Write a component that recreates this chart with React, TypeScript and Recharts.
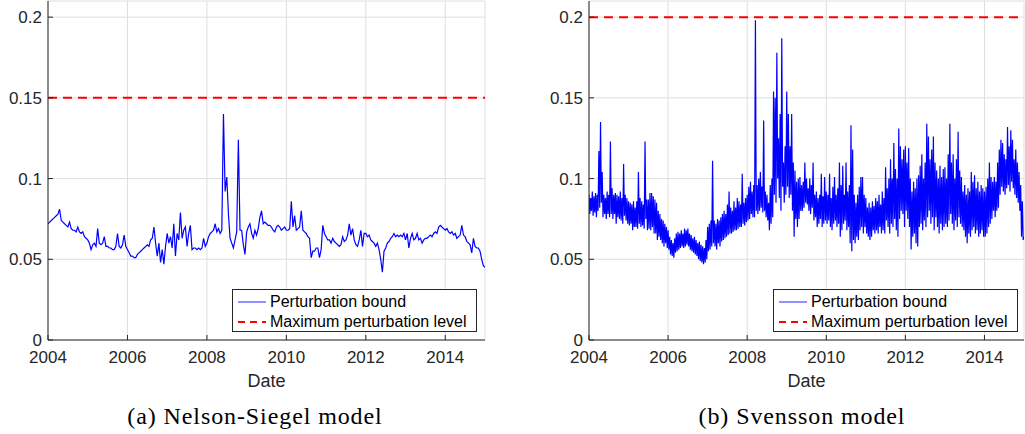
import React from "react";
import { LineChart, Line, XAxis, YAxis, CartesianGrid, ReferenceLine } from "recharts";

const START_YEAR = 2004;
const YEAR_TICKS = [2004, 2006, 2008, 2010, 2012, 2014];
const VALUE_TICKS = [0, 0.05, 0.1, 0.15, 0.2];

// (a) Nelson-Siegel perturbation bound, two readings per month
const NS_PER_YEAR = 24;
const NS_BOUND = [
  0.072, 0.073, 0.074, 0.075, 0.076, 0.077, 0.078, 0.081, 0.074, 0.073, 0.072, 0.071, 0.070, 0.073, 0.069, 0.068, 0.068, 0.067, 0.070, 0.067, 0.066, 0.067, 0.064, 0.063,
  0.062, 0.060, 0.056, 0.059, 0.060, 0.058, 0.069, 0.060, 0.059, 0.060, 0.064, 0.058, 0.058, 0.057, 0.057, 0.056, 0.056, 0.058, 0.066, 0.058, 0.057, 0.059, 0.065, 0.058,
  0.056, 0.054, 0.052, 0.052, 0.051, 0.051, 0.053, 0.054, 0.055, 0.056, 0.057, 0.058, 0.059, 0.058, 0.062, 0.063, 0.070, 0.060, 0.052, 0.060, 0.048, 0.056, 0.047, 0.058,
  0.066, 0.060, 0.064, 0.057, 0.072, 0.052, 0.066, 0.062, 0.079, 0.063, 0.068, 0.070, 0.058, 0.066, 0.071, 0.056, 0.057, 0.057, 0.056, 0.057, 0.056, 0.057, 0.063, 0.058,
  0.060, 0.064, 0.066, 0.067, 0.068, 0.072, 0.067, 0.069, 0.066, 0.068, 0.140, 0.092, 0.101, 0.078, 0.063, 0.060, 0.057, 0.062, 0.067, 0.124, 0.068, 0.068, 0.059, 0.053,
  0.067, 0.070, 0.072, 0.066, 0.063, 0.068, 0.065, 0.069, 0.076, 0.080, 0.072, 0.073, 0.072, 0.071, 0.071, 0.070, 0.068, 0.067, 0.070, 0.071, 0.070, 0.068, 0.069, 0.070,
  0.068, 0.068, 0.069, 0.086, 0.070, 0.077, 0.068, 0.069, 0.070, 0.080, 0.068, 0.067, 0.066, 0.064, 0.063, 0.051, 0.055, 0.055, 0.057, 0.057, 0.051, 0.056, 0.071, 0.066,
  0.064, 0.062, 0.062, 0.060, 0.063, 0.061, 0.060, 0.059, 0.058, 0.059, 0.064, 0.061, 0.062, 0.065, 0.072, 0.065, 0.069, 0.062, 0.059, 0.058, 0.062, 0.068, 0.058, 0.066,
  0.066, 0.064, 0.065, 0.062, 0.061, 0.060, 0.058, 0.060, 0.056, 0.050, 0.042, 0.055, 0.057, 0.060, 0.061, 0.063, 0.064, 0.066, 0.064, 0.065, 0.064, 0.065, 0.064, 0.066,
  0.062, 0.066, 0.057, 0.063, 0.066, 0.062, 0.063, 0.066, 0.062, 0.063, 0.060, 0.062, 0.063, 0.063, 0.064, 0.065, 0.064, 0.066, 0.067, 0.066, 0.070, 0.071, 0.070, 0.069,
  0.068, 0.069, 0.067, 0.066, 0.067, 0.065, 0.066, 0.063, 0.064, 0.065, 0.071, 0.065, 0.064, 0.061, 0.060, 0.059, 0.054, 0.063, 0.058, 0.057, 0.057, 0.055, 0.050, 0.046,
  0.045,
];

// (b) Svensson perturbation bound, four readings per month (it swings a lot)
const SV_PER_YEAR = 48;
const SV_BOUND = [
  // 2004
  0.090, 0.078, 0.088, 0.080, 0.092, 0.077, 0.089, 0.079, 0.091, 0.076, 0.090, 0.080, 0.117, 0.082, 0.135, 0.085,
  0.104, 0.076, 0.090, 0.078, 0.088, 0.075, 0.092, 0.078, 0.090, 0.076, 0.123, 0.078, 0.094, 0.075, 0.090, 0.078,
  0.091, 0.072, 0.090, 0.076, 0.089, 0.075, 0.092, 0.074, 0.088, 0.072, 0.109, 0.077, 0.090, 0.074, 0.088, 0.072,
  // 2005
  0.086, 0.071, 0.085, 0.072, 0.084, 0.068, 0.086, 0.070, 0.082, 0.070, 0.086, 0.069, 0.104, 0.072, 0.088, 0.070,
  0.086, 0.071, 0.084, 0.069, 0.123, 0.075, 0.087, 0.068, 0.087, 0.069, 0.091, 0.068, 0.091, 0.070, 0.089, 0.066,
  0.087, 0.066, 0.085, 0.062, 0.080, 0.064, 0.078, 0.062, 0.075, 0.060, 0.074, 0.058, 0.072, 0.060, 0.070, 0.057,
  // 2006
  0.068, 0.056, 0.064, 0.053, 0.062, 0.052, 0.060, 0.051, 0.063, 0.054, 0.066, 0.055, 0.067, 0.056, 0.066, 0.057,
  0.068, 0.058, 0.066, 0.057, 0.069, 0.058, 0.068, 0.059, 0.069, 0.058, 0.066, 0.056, 0.065, 0.055, 0.063, 0.054,
  0.064, 0.053, 0.062, 0.052, 0.060, 0.050, 0.061, 0.049, 0.059, 0.048, 0.058, 0.047, 0.057, 0.048, 0.062, 0.050,
  // 2007
  0.070, 0.055, 0.072, 0.056, 0.074, 0.058, 0.111, 0.060, 0.074, 0.058, 0.072, 0.056, 0.075, 0.060, 0.074, 0.058,
  0.076, 0.061, 0.078, 0.062, 0.080, 0.063, 0.078, 0.064, 0.084, 0.065, 0.092, 0.066, 0.082, 0.066, 0.080, 0.067,
  0.086, 0.068, 0.082, 0.068, 0.088, 0.069, 0.086, 0.070, 0.084, 0.070, 0.103, 0.072, 0.085, 0.071, 0.088, 0.073,
  // 2008
  0.090, 0.074, 0.095, 0.075, 0.098, 0.078, 0.092, 0.076, 0.096, 0.076, 0.198, 0.080, 0.096, 0.078, 0.100, 0.080,
  0.104, 0.082, 0.095, 0.079, 0.136, 0.080, 0.092, 0.076, 0.090, 0.074, 0.085, 0.068, 0.096, 0.072, 0.100, 0.076,
  0.154, 0.090, 0.150, 0.085, 0.178, 0.100, 0.125, 0.088, 0.140, 0.080, 0.187, 0.095, 0.110, 0.085, 0.120, 0.090,
  // 2009
  0.154, 0.095, 0.140, 0.088, 0.120, 0.090, 0.140, 0.080, 0.110, 0.064, 0.105, 0.075, 0.098, 0.070, 0.100, 0.075,
  0.101, 0.080, 0.096, 0.080, 0.098, 0.082, 0.110, 0.085, 0.100, 0.084, 0.094, 0.080, 0.100, 0.078, 0.096, 0.082,
  0.110, 0.074, 0.090, 0.076, 0.092, 0.070, 0.088, 0.072, 0.090, 0.075, 0.103, 0.070, 0.089, 0.072, 0.101, 0.074,
  // 2010
  0.092, 0.072, 0.090, 0.074, 0.103, 0.070, 0.088, 0.068, 0.095, 0.072, 0.101, 0.074, 0.090, 0.070, 0.094, 0.072,
  0.110, 0.064, 0.096, 0.068, 0.108, 0.072, 0.090, 0.074, 0.110, 0.068, 0.092, 0.070, 0.096, 0.060, 0.133, 0.055,
  0.118, 0.062, 0.090, 0.060, 0.085, 0.064, 0.090, 0.062, 0.095, 0.068, 0.101, 0.070, 0.101, 0.066, 0.090, 0.070,
  // 2011
  0.088, 0.066, 0.082, 0.064, 0.085, 0.062, 0.082, 0.064, 0.086, 0.068, 0.083, 0.066, 0.088, 0.068, 0.086, 0.066,
  0.090, 0.070, 0.084, 0.066, 0.092, 0.068, 0.088, 0.066, 0.107, 0.074, 0.094, 0.070, 0.100, 0.066, 0.112, 0.072,
  0.100, 0.070, 0.122, 0.075, 0.106, 0.068, 0.100, 0.064, 0.131, 0.075, 0.120, 0.080, 0.112, 0.078, 0.118, 0.070,
  // 2012
  0.120, 0.080, 0.110, 0.075, 0.119, 0.070, 0.100, 0.056, 0.092, 0.064, 0.098, 0.066, 0.094, 0.060, 0.100, 0.058,
  0.102, 0.070, 0.108, 0.072, 0.115, 0.068, 0.100, 0.074, 0.110, 0.070, 0.134, 0.076, 0.126, 0.080, 0.112, 0.072,
  0.118, 0.076, 0.126, 0.068, 0.110, 0.076, 0.105, 0.070, 0.100, 0.066, 0.108, 0.072, 0.101, 0.068, 0.106, 0.070,
  // 2013
  0.107, 0.072, 0.100, 0.070, 0.115, 0.074, 0.134, 0.078, 0.110, 0.072, 0.115, 0.068, 0.100, 0.074, 0.112, 0.070,
  0.129, 0.076, 0.105, 0.072, 0.101, 0.070, 0.092, 0.068, 0.096, 0.064, 0.090, 0.060, 0.094, 0.066, 0.092, 0.064,
  0.104, 0.068, 0.098, 0.070, 0.102, 0.066, 0.094, 0.068, 0.098, 0.064, 0.092, 0.066, 0.096, 0.068, 0.094, 0.064,
  // 2014
  0.092, 0.064, 0.095, 0.066, 0.100, 0.070, 0.110, 0.072, 0.101, 0.075, 0.098, 0.080, 0.101, 0.076, 0.098, 0.080,
  0.110, 0.082, 0.118, 0.090, 0.124, 0.095, 0.122, 0.092, 0.115, 0.090, 0.112, 0.094, 0.132, 0.096, 0.120, 0.092,
  0.130, 0.098, 0.124, 0.094, 0.112, 0.090, 0.118, 0.088, 0.110, 0.085, 0.104, 0.080, 0.096, 0.064, 0.086, 0.062,
  0.064,
];

const NS_MAX_LEVEL = 0.15;
const SV_MAX_LEVEL = 0.2;

const AXIS_COLOR = "#262626";
const FONT = "'Liberation Sans', Arial, Helvetica, sans-serif";
const CAPTION_FONT = "'Liberation Serif', serif";

interface PanelProps {
  values: number[];
  perYear: number;
  level: number;
  caption: string;
  left: number;
  width: number;
  rightMargin: number;
  captionCenter: number;
}

function Panel({ values, perYear, level, caption, left, width, rightMargin, captionCenter }: PanelProps) {
  const data = values.map((v, i) => ({ t: START_YEAR + i / perYear, v }));
  const plotCenter = 48 + (width - 48 - rightMargin) / 2;

  return (
    <div style={{ position: "absolute", left, top: 0, width, height: 434 }}>
      <LineChart width={width} height={380} data={data} margin={{ top: 1, right: rightMargin, left: 0, bottom: 0 }}>
        <CartesianGrid xAxisId="b" yAxisId="l" stroke="#dedede" strokeWidth={1} />
        <XAxis
          xAxisId="b"
          dataKey="t"
          type="number"
          domain={[2004, 2015]}
          ticks={YEAR_TICKS}
          allowDataOverflow
          height={40}
          tickSize={-5}
          tickMargin={16}
          stroke={AXIS_COLOR}
          tick={{ fill: AXIS_COLOR, fontSize: 17, fontFamily: FONT }}
        />
        <XAxis
          xAxisId="top"
          orientation="top"
          type="number"
          domain={[2004, 2015]}
          ticks={YEAR_TICKS}
          allowDataOverflow
          height={0}
          tickSize={-5}
          tick={false}
          stroke={AXIS_COLOR}
        />
        <YAxis
          yAxisId="l"
          type="number"
          domain={[0, 0.21]}
          ticks={VALUE_TICKS}
          allowDataOverflow
          width={48}
          tickSize={-5}
          tickMargin={11}
          stroke={AXIS_COLOR}
          tick={{ fill: AXIS_COLOR, fontSize: 17, fontFamily: FONT }}
        />
        <YAxis
          yAxisId="r"
          orientation="right"
          type="number"
          domain={[0, 0.21]}
          ticks={VALUE_TICKS}
          allowDataOverflow
          width={0}
          tickSize={-5}
          tick={false}
          stroke={AXIS_COLOR}
        />
        <Line
          xAxisId="b"
          yAxisId="l"
          type="linear"
          dataKey="v"
          stroke="#0000ff"
          strokeWidth={1.2}
          dot={false}
          isAnimationActive={false}
        />
        <ReferenceLine
          xAxisId="b"
          yAxisId="l"
          y={level}
          stroke="#ff0000"
          strokeWidth={2}
          strokeDasharray="9 6"
        />
      </LineChart>

      {/* legend box */}
      <div
        style={{
          position: "absolute",
          left: 232,
          top: 289,
          width: 245,
          height: 43,
          boxSizing: "border-box",
          border: `1px solid ${AXIS_COLOR}`,
          background: "#fff",
          fontFamily: FONT,
          fontSize: 16,
          color: "#000",
        }}
      >
        <svg width={40} height={41} style={{ position: "absolute", left: 0, top: 0 }}>
          <line x1={5} x2={33} y1={12} y2={12} stroke="#6e6eff" strokeWidth={1.5} />
          <line x1={5} x2={33} y1={32} y2={32} stroke="#ff0000" strokeWidth={2} strokeDasharray="7 5" />
        </svg>
        <div style={{ position: "absolute", left: 37, top: 2, lineHeight: "19px", whiteSpace: "nowrap" }}>
          Perturbation bound
        </div>
        <div style={{ position: "absolute", left: 37, top: 22, lineHeight: "19px", whiteSpace: "nowrap" }}>
          Maximum perturbation level
        </div>
      </div>

      <div
        style={{
          position: "absolute",
          left: plotCenter - 60,
          width: 120,
          top: 370,
          textAlign: "center",
          fontFamily: FONT,
          fontSize: 18,
          lineHeight: "22px",
          color: AXIS_COLOR,
        }}
      >
        Date
      </div>
      <div
        style={{
          position: "absolute",
          left: captionCenter - 200,
          width: 400,
          top: 401,
          textAlign: "center",
          fontFamily: CAPTION_FONT,
          fontSize: 24,
          letterSpacing: 0.9,
          lineHeight: "30px",
          color: "#000",
          whiteSpace: "nowrap",
        }}
      >
        {caption}
      </div>
    </div>
  );
}

export default function App() {
  return (
    <div style={{ position: "absolute", left: 0, top: 0, width: 1025, height: 434, background: "#fff", overflow: "hidden" }}>
      <Panel
        values={NS_BOUND}
        perYear={NS_PER_YEAR}
        level={NS_MAX_LEVEL}
        caption="(a) Nelson-Siegel model"
        left={0}
        width={490}
        rightMargin={5}
        captionCenter={255}
      />
      <Panel
        values={SV_BOUND}
        perYear={SV_PER_YEAR}
        level={SV_MAX_LEVEL}
        caption="(b) Svensson model"
        left={541}
        width={484}
        rightMargin={1}
        captionCenter={261}
      />
    </div>
  );
}
